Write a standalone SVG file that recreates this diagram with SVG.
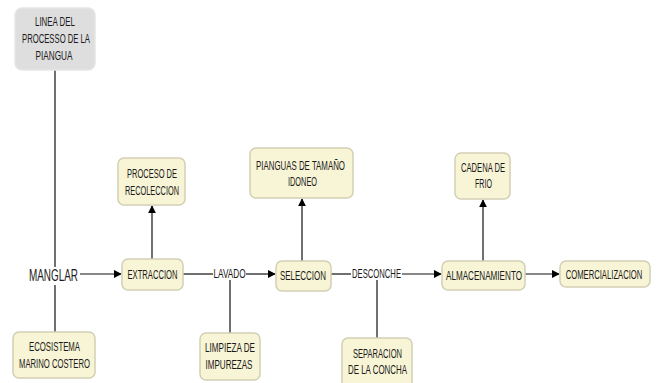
<svg xmlns="http://www.w3.org/2000/svg" width="656" height="383" viewBox="0 0 656 383">
<style>
.n{fill:#f8f4d6;stroke:#d2cfb4;stroke-width:1.5}
.g{fill:#dedede;stroke:#e6e6e6;stroke-width:1.5}
text{font-family:"Liberation Sans",Arial,sans-serif;font-size:12px;fill:#1a1a1a;text-anchor:middle}
.big{font-size:17px}
.c line{stroke:#111;stroke-width:1.2}
</style>
<defs>
<marker id="a" viewBox="0 0 10 10" refX="9" refY="5" markerWidth="8" markerHeight="8" markerUnits="userSpaceOnUse" orient="auto"><path d="M0,0L10,5L0,10z" fill="#000"/></marker>
</defs>
<rect width="656" height="383" fill="#fff"/>
<g class="c">
<line x1="55" y1="70" x2="55" y2="267"/>
<line x1="55" y1="285" x2="55" y2="332"/>
<line x1="80" y1="274" x2="121" y2="274" marker-end="url(#a)"/>
<line x1="183" y1="274" x2="213" y2="274"/>
<line x1="246" y1="274" x2="275" y2="274" marker-end="url(#a)"/>
<line x1="230" y1="280" x2="230" y2="333"/>
<line x1="152" y1="259" x2="152" y2="206" marker-end="url(#a)"/>
<line x1="302" y1="261" x2="302" y2="199" marker-end="url(#a)"/>
<line x1="331" y1="274" x2="351" y2="274"/>
<line x1="402" y1="274" x2="441" y2="274" marker-end="url(#a)"/>
<line x1="377" y1="280" x2="377" y2="338"/>
<line x1="483" y1="261" x2="483" y2="200" marker-end="url(#a)"/>
<line x1="525" y1="274" x2="559" y2="274" marker-end="url(#a)"/>
</g>
<g id="linea"><rect class="g" x="15" y="8" width="80" height="62" rx="7"/><text x="55" y="26" textLength="40" lengthAdjust="spacingAndGlyphs">LINEA DEL</text><text x="56" y="43" textLength="68" lengthAdjust="spacingAndGlyphs">PROCESSO DE LA</text><text x="54" y="60" textLength="37" lengthAdjust="spacingAndGlyphs">PIANGUA</text></g>
<g id="manglar"><text class="big" x="53.5" y="281" textLength="49" lengthAdjust="spacingAndGlyphs">MANGLAR</text></g>
<g id="ecosistema"><rect class="n" x="13" y="332" width="82" height="46" rx="6"/><text x="54.5" y="351" textLength="51" lengthAdjust="spacingAndGlyphs">ECOSISTEMA</text><text x="54.5" y="368" textLength="71" lengthAdjust="spacingAndGlyphs">MARINO COSTERO</text></g>
<g id="extraccion"><rect class="n" x="122" y="259" width="61" height="31" rx="6"/><text x="152.5" y="279" textLength="50" lengthAdjust="spacingAndGlyphs">EXTRACCION</text></g>
<g id="recoleccion"><rect class="n" x="118" y="158" width="67" height="47" rx="6"/><text x="152" y="178" textLength="50" lengthAdjust="spacingAndGlyphs">PROCESO DE</text><text x="152" y="195" textLength="54" lengthAdjust="spacingAndGlyphs">RECOLECCION</text></g>
<g id="lavado"><text x="229.5" y="278" textLength="32" lengthAdjust="spacingAndGlyphs">LAVADO</text></g>
<g id="limpieza"><rect class="n" x="200" y="333" width="60" height="47" rx="6"/><text x="230" y="352" textLength="50" lengthAdjust="spacingAndGlyphs">LIMPIEZA DE</text><text x="229" y="369" textLength="47" lengthAdjust="spacingAndGlyphs">IMPUREZAS</text></g>
<g id="seleccion"><rect class="n" x="276" y="261" width="55" height="30" rx="6"/><text x="303" y="280" textLength="46" lengthAdjust="spacingAndGlyphs">SELECCION</text></g>
<g id="pianguas"><rect class="n" x="250" y="148" width="103" height="50" rx="6"/><text x="300.5" y="170" textLength="89" lengthAdjust="spacingAndGlyphs">PIANGUAS DE TAMAÑO</text><text x="302.5" y="186" textLength="29" lengthAdjust="spacingAndGlyphs">IDONEO</text></g>
<g id="desconche"><text x="376.5" y="278" textLength="49" lengthAdjust="spacingAndGlyphs">DESCONCHE</text></g>
<g id="separacion"><rect class="n" x="342" y="338" width="70" height="50" rx="6"/><text x="377.5" y="358" textLength="49" lengthAdjust="spacingAndGlyphs">SEPARACION</text><text x="377.5" y="374" textLength="59" lengthAdjust="spacingAndGlyphs">DE LA CONCHA</text></g>
<g id="almacenamiento"><rect class="n" x="442" y="261" width="83" height="29" rx="6"/><text x="484" y="280" textLength="76" lengthAdjust="spacingAndGlyphs">ALMACENAMIENTO</text></g>
<g id="cadena"><rect class="n" x="455" y="153" width="55" height="46" rx="6"/><text x="483" y="172" textLength="44" lengthAdjust="spacingAndGlyphs">CADENA DE</text><text x="483.5" y="188" textLength="17" lengthAdjust="spacingAndGlyphs">FRIO</text></g>
<g id="comercializacion"><rect class="n" x="560" y="261" width="90" height="26" rx="6"/><text transform="translate(604,279) scale(0.64,1)" x="0" y="0">COMERCIALIZACION</text></g>
</svg>
